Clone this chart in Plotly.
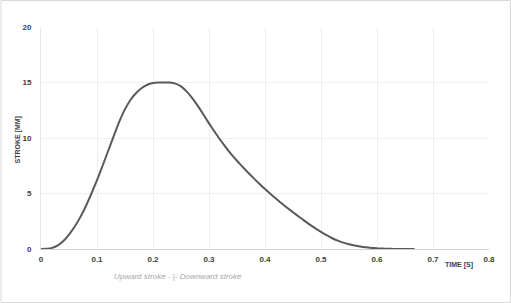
import plotly.graph_objects as go

time_s = [0.00, 0.01, 0.02, 0.03, 0.04, 0.05, 0.06, 0.07, 0.08, 0.09,
          0.10, 0.11, 0.12, 0.13, 0.14, 0.15, 0.16, 0.17, 0.18, 0.19,
          0.20, 0.21, 0.22, 0.23, 0.24, 0.25, 0.26, 0.27, 0.28, 0.29,
          0.30, 0.31, 0.32, 0.33, 0.34, 0.35, 0.36, 0.37, 0.38, 0.39,
          0.40, 0.41, 0.42, 0.43, 0.44, 0.45, 0.46, 0.47, 0.48, 0.49,
          0.50, 0.51, 0.52, 0.53, 0.54, 0.55, 0.56, 0.57, 0.58, 0.59,
          0.60, 0.61, 0.62, 0.63, 0.64, 0.65, 0.667]
stroke_mm = [0.0, 0.02, 0.10, 0.32, 0.72, 1.30, 2.00, 2.85, 3.85, 4.98,
             6.20, 7.50, 8.85, 10.20, 11.50, 12.60, 13.45, 14.05, 14.50, 14.80,
             14.95, 15.0, 15.0, 14.99, 14.90, 14.65, 14.20, 13.60, 12.90, 12.12,
             11.32, 10.56, 9.84, 9.16, 8.53, 7.95, 7.40, 6.87, 6.36, 5.87,
             5.40, 4.95, 4.52, 4.10, 3.70, 3.31, 2.93, 2.56, 2.20, 1.86,
             1.54, 1.24, 0.97, 0.75, 0.57, 0.42, 0.31, 0.22, 0.15, 0.10,
             0.06, 0.035, 0.02, 0.01, 0.0, 0.0, 0.0]

x_ticks = [0, 0.1, 0.2, 0.3, 0.4, 0.5, 0.6, 0.7, 0.8]
x_tick_labels = ["0", "0.1", "0.2", "0.3", "0.4", "0.5", "0.6", "0.7", "0.8"]
y_ticks = [0, 5, 10, 15, 20]
y_tick_labels = ["0", "5", "10", "15", "20"]

W, H = 511, 303
ML, MR, MT, MB = 40.5, 22, 27, 54
FONT = "Liberation Sans"
TICK_FONT = dict(family=FONT, size=8, color="#404040", weight="bold")

fig = go.Figure()
fig.add_trace(go.Scatter(
    x=time_s, y=stroke_mm, mode="lines",
    line=dict(color="#595959", width=2, shape="spline", smoothing=0.5),
    showlegend=False, hoverinfo="skip"))

fig.update_layout(
    width=W, height=H,
    margin=dict(l=ML, r=MR, t=MT, b=MB, pad=0),
    paper_bgcolor="white", plot_bgcolor="white",
    font=dict(family=FONT, size=8, color="#404040"),
    xaxis=dict(range=[0, 0.8], tickvals=x_ticks, ticktext=x_tick_labels,
               showgrid=True, gridcolor="#efefef", gridwidth=1,
               zeroline=False, showline=True, linecolor="#d0d0d0", linewidth=1,
               ticks="", tickfont=TICK_FONT, ticklabelstandoff=2, fixedrange=True),
    yaxis=dict(range=[0, 20], tickvals=y_ticks, ticktext=y_tick_labels,
               showgrid=True, gridcolor="#efefef", gridwidth=1,
               zeroline=False, showline=True, linecolor="#e6e6e6", linewidth=1,
               ticks="", tickfont=TICK_FONT, ticklabelstandoff=7, fixedrange=True),
)

pw = W - ML - MR
ph = H - MT - MB
def px(xp):
    return (xp - ML) / pw
def py(yp):
    return (H - MB - yp) / ph

fig.add_annotation(x=px(17), y=py(140), xref="paper", yref="paper",
                   text="<b>STROKE [MM]</b>", showarrow=False, textangle=-90,
                   xanchor="center", yanchor="middle", borderpad=0,
                   font=dict(family=FONT, size=7, color="#404040"))
fig.add_annotation(x=px(475), y=py(265), xref="paper", yref="paper",
                   text="<b>TIME [S]</b>", showarrow=False, xanchor="right", yanchor="middle",
                   font=dict(family=FONT, size=7, color="#404040"))
fig.add_annotation(x=px(112), y=py(276.5), xref="paper", yref="paper",
                   text="<i>Upward stroke - |- Downward stroke</i>", showarrow=False,
                   xanchor="left", yanchor="middle",
                   font=dict(family=FONT, size=8, color="#a6a6a6"))
fig.add_shape(type="rect", xref="paper", yref="paper",
              x0=px(0.5), x1=px(510.5), y0=py(302.5), y1=py(0.5),
              line=dict(color="#d9d9d9", width=1), fillcolor="rgba(0,0,0,0)", layer="below")

fig.write_html("out.html")
